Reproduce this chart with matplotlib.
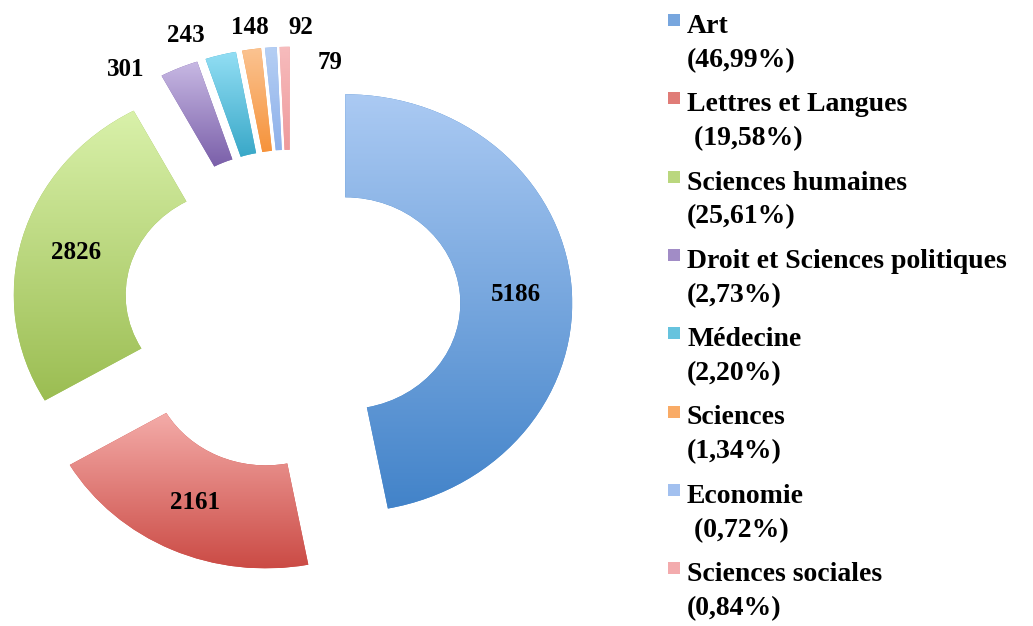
# Donut chart des inscriptions par domaine (style Excel, secteurs éclatés + dégradés)
import numpy as np
import matplotlib.pyplot as plt
from matplotlib.colors import LinearSegmentedColormap, to_rgb
from matplotlib.patches import Rectangle

# data
categories = ['Art', 'Lettres et Langues', 'Sciences humaines',
              'Droit et Sciences politiques', 'Médecine', 'Sciences',
              'Economie', 'Sciences sociales']
counts = [5186, 2161, 2826, 301, 243, 148, 92, 79]
pct_labels = ['(46,99%)', ' (19,58%)', '(25,61%)', '(2,73%)', '(2,20%)',
              '(1,34%)', ' (0,72%)', '(0,84%)']

# styles : couleur haut / bas du dégradé de chaque secteur
top_colors = ['#abcaf3', '#f4aca9', '#d9f1aa', '#c7b8e3', '#92def4',
              '#fbc391', '#b5cff4', '#f7bcbd']
bottom_colors = ['#4283c9', '#cb4b45', '#9bbd52', '#7a5fa9', '#39a8c8',
                 '#f6933b', '#8fb1ea', '#ee9a9c']
explode = [0.24, 0.27, 0.23, 0.25, 0.25, 0.25, 0.25, 0.25]
ring_width = 0.493

plt.rcParams['font.family'] = ['Liberation Serif', 'DejaVu Serif']

fig = plt.figure(figsize=(10.33, 6.26), dpi=100)
ax = fig.add_axes([0, 0, 1, 1])

wedges, _ = ax.pie(counts, explode=explode, startangle=90, counterclock=False,
                   colors=bottom_colors, radius=1.0,
                   wedgeprops=dict(width=ring_width, linewidth=0))

# dégradé vertical dans chaque secteur (image découpée par le secteur)
grad = np.linspace(0, 1, 256).reshape(-1, 1)
for w, c0, c1 in zip(wedges, top_colors, bottom_colors):
    ext = w.get_path().get_extents()
    cmap = LinearSegmentedColormap.from_list('g', [c0, c1])
    im = ax.imshow(grad, cmap=cmap, extent=(ext.x0, ext.x1, ext.y0, ext.y1),
                   origin='upper', aspect='auto', interpolation='bilinear',
                   zorder=2)
    im.set_clip_path(w)

# étiquettes dans l'anneau pour les gros secteurs
mid_r = 1.0 - ring_width / 2
nudge = [(0.0, -0.03), (0.0, 0.0), (0.0, 0.0)]
for i in range(3):
    w = wedges[i]
    ang = np.deg2rad((w.theta1 + w.theta2) / 2)
    x = w.center[0] + mid_r * np.cos(ang) + nudge[i][0]
    y = w.center[1] + mid_r * np.sin(ang) + nudge[i][1]
    ax.text(x, y, str(counts[i]), ha='center', va='center',
            fontsize=18, fontweight='bold', zorder=5)

# étiquettes extérieures des petits secteurs
outer_pos = [(-0.727, 1.139), (-0.463, 1.306), (-0.181, 1.340),
             (0.044, 1.344), (0.172, 1.177)]
for i, (x, y) in zip(range(3, 8), outer_pos):
    ax.text(x, y, str(counts[i]), ha='center', va='center',
            fontsize=18, fontweight='bold', zorder=5)

ax.set_aspect('auto')
ax.set_xlim(-291 / 227, (1033 - 291) / 227)
ax.set_ylim(-(626 - 308) / 209, 308 / 209)
ax.axis('off')

# légende à droite
W, H = 1033, 626
for i, name in enumerate(categories):
    base = 33 + i * 78.3
    col = np.array(to_rgb(bottom_colors[i])) * 0.5 + np.array(to_rgb(top_colors[i])) * 0.5
    fig.add_artist(Rectangle((668 / W, 1 - (base - 7) / H), 12 / W, 12 / H,
                             transform=fig.transFigure, facecolor=col,
                             edgecolor='none'))
    fig.text(687 / W, 1 - base / H, name, fontsize=20, fontweight='bold',
             va='baseline', ha='left')
    fig.text(687 / W, 1 - (base + 34) / H, pct_labels[i], fontsize=20,
             fontweight='bold', va='baseline', ha='left')

fig.savefig('out.png', dpi=100)
